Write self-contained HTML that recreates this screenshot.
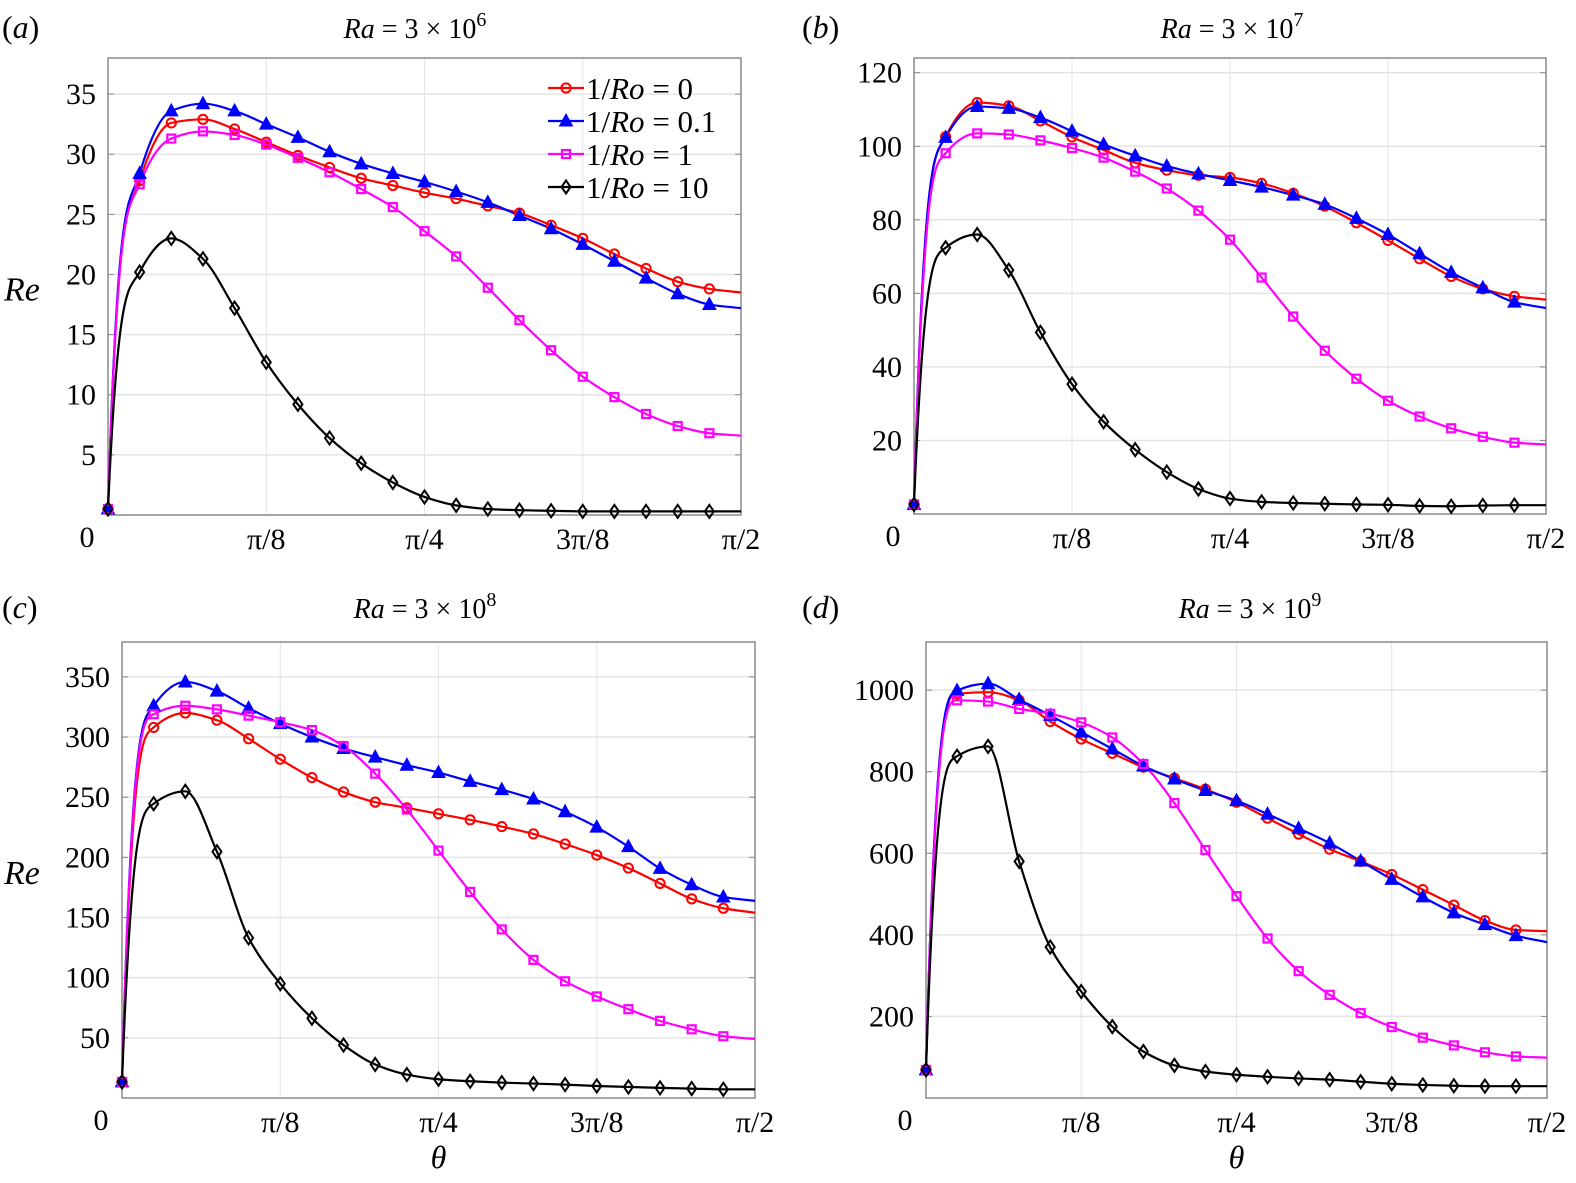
<!DOCTYPE html>
<html><head><meta charset="utf-8">
<style>
html,body{margin:0;padding:0;background:#fff;}
svg{display:block;font-family:"Liberation Serif","Times New Roman",serif;}
</style></head>
<body>
<svg id="fig" width="1576" height="1183" viewBox="0 0 1576 1183" font-family="Liberation Serif, serif" xmlns="http://www.w3.org/2000/svg"></svg>
<script>
// values at theta = k*pi/40, k = 0..20 (marker on k=0..19)
const aRed  =[0.5,27.8,32.6,32.9,32.1,31.0,29.9,28.9,28.0,27.4,26.8,26.3,25.7,25.1,24.1,23.0,21.7,20.5,19.4,18.8,18.5];
const aBlue =[0.5,28.4,33.6,34.2,33.6,32.5,31.4,30.2,29.2,28.4,27.7,26.9,26.0,24.9,23.8,22.5,21.1,19.7,18.4,17.5,17.2];
const aMag  =[0.5,27.5,31.3,31.9,31.6,30.8,29.7,28.5,27.1,25.6,23.6,21.5,18.9,16.2,13.7,11.5,9.8,8.4,7.4,6.8,6.6];
const aBlk  =[0.5,20.2,23.0,21.3,17.2,12.7,9.2,6.4,4.3,2.7,1.5,0.8,0.5,0.4,0.35,0.3,0.3,0.3,0.3,0.3,0.3];

const bRed  =[2.6,102.6,111.9,111,106.9,102.5,99,95.5,93.5,92.1,91.5,89.9,87.2,83.7,79.2,74.4,69.4,64.6,61.2,59.2,58.3];
const bBlue =[2.6,102.4,110.8,110.3,107.8,104.1,100.5,97.4,94.6,92.5,90.7,88.9,86.7,84.2,80.4,76,70.8,65.7,61.5,57.6,56];
const bMag  =[2.6,98.1,103.5,103.2,101.6,99.5,96.9,93.1,88.5,82.5,74.6,64.3,53.7,44.4,36.8,30.8,26.5,23.3,21,19.4,18.9];
const bBlk  =[2.6,72.4,76,66.3,49.4,35.3,25.1,17.5,11.4,6.8,4.2,3.3,3.0,2.8,2.6,2.5,2.2,2.1,2.3,2.4,2.4];

const cRed  =[13.4,308,320,314,298.6,281.6,266.3,254.3,245.9,241.2,236.2,231.2,225.6,219.5,211.1,201.9,191.1,178.3,165.5,157.7,154];
const cBlue =[13.4,326,345.8,338.2,324,311.2,300,290.5,283.3,276.6,270.5,263.2,256.3,248.5,237.9,225.1,208.9,190.8,177.2,167.1,163.8];
const cMag  =[13.4,319,326,323,317.8,312.3,305.8,292.5,269.6,239.8,205.6,171.3,140.1,114.8,97,84.4,73.8,64.1,57.1,51.3,49];
const cBlk  =[13.4,244.6,254.9,204.7,133.1,95,66.3,44,27.9,19.5,15.6,13.9,12.8,12,11.1,10,9.2,8.4,7.8,7.2,7.2];

const dRed  =[69,991,995,975,923,880,845,811,784,757,725,686,647,610,580,548,511,473,435,412,409];
const dBlue =[69,999,1016,977,938,897,856,814,782,754,729,696,661,625,581,536,493,454,425,398,382];
const dMag  =[69,975,972,954,942,921,884,819,723,608,495,391,311,253,208,174,148,129,112,102,99];
const dBlk  =[69,838,862,580,370,261,175,114,80,65,57,52,48,45,40,35,32,30,29,29,29];

const xTickLabels=["π/8","π/4","3π/8","π/2"];
const aYTicks=[5,10,15,20,25,30,35];
const bYTicks=[20,40,60,80,100,120];
const cYTicks=[50,100,150,200,250,300,350];
const dYTicks=[200,400,600,800,1000];
const legendLabels=["1/Ro = 0","1/Ro = 0.1","1/Ro = 1","1/Ro = 10"];

const NS="http://www.w3.org/2000/svg";
const svg=document.getElementById('fig');
function mk(tag,attrs,parent){const e=document.createElementNS(NS,tag);for(const k in attrs)e.setAttribute(k,attrs[k]);(parent||svg).appendChild(e);return e;}

const colors=["#ff0000","#0000ff","#ff00ff","#000000"];
const mkNames=["circle","triangle","square","diamond"];

function marker(g,type,x,y,col){
  let e;
  if(type==="circle"){e=mk('circle',{cx:x,cy:y,r:4.6,fill:'none',stroke:col,'stroke-width':2},g);}
  else if(type==="triangle"){e=mk('polygon',{points:`${x},${y-7} ${x-6.5},${y+5} ${x+6.5},${y+5}`,fill:col,stroke:col,'stroke-width':1},g);}
  else if(type==="square"){e=mk('rect',{x:x-4,y:y-4,width:8,height:8,fill:'none',stroke:col,'stroke-width':2.2},g);}
  else {e=mk('polygon',{points:`${x},${y-6.5} ${x+4.5},${y} ${x},${y+6.5} ${x-4.5},${y}`,fill:'none',stroke:col,'stroke-width':2},g);}
  
  
}

// monotone cubic (Fritsch-Carlson) through pixel points
function spline(pts){
  const n=pts.length, dx=[], m=[], t=new Array(n);
  for(let i=0;i<n-1;i++){dx.push(pts[i+1][0]-pts[i][0]);m.push((pts[i+1][1]-pts[i][1])/dx[i]);}
  t[0]=3*m[0]; t[n-1]=m[n-2];
  for(let i=1;i<n-1;i++){
    if(m[i-1]*m[i]<=0) t[i]=0;
    else {const w1=2*dx[i]+dx[i-1],w2=dx[i]+2*dx[i-1];t[i]=(w1+w2)/(w1/m[i-1]+w2/m[i]);}
  }
  let d=`M${pts[0][0]},${pts[0][1]}`;
  for(let i=0;i<n-1;i++){
    const h=dx[i]/3;
    d+=` C${pts[i][0]+h},${pts[i][1]+t[i]*h} ${pts[i+1][0]-h},${pts[i+1][1]-t[i+1]*h} ${pts[i+1][0]},${pts[i+1][1]}`;
  }
  return d;
}

function panel(o){
  const g=mk('g',{});
  
  
  const {L,R,T,B,ymax}=o;
  const sx=t=>L+(R-L)*t/(Math.PI/2);
  const sy=v=>B-(B-T)*v/ymax;
  for(let i=1;i<=3;i++){
    const l=mk('line',{x1:sx(i*Math.PI/8),x2:sx(i*Math.PI/8),y1:T,y2:B,stroke:'#e4e4e4','stroke-width':1},g);
    
    
  }
  o.yticks.forEach(v=>{
    const l=mk('line',{x1:L,x2:R,y1:sy(v),y2:sy(v),stroke:'#e4e4e4','stroke-width':1.5},g);
    
    
    const tk=mk('line',{x1:L,x2:L+6,y1:sy(v),y2:sy(v),stroke:'#888','stroke-width':1},g);
    
    
    const tk2=mk('line',{x1:R-6,x2:R,y1:sy(v),y2:sy(v),stroke:'#888','stroke-width':1},g);
    
    
    const t=mk('text',{x:L-12,y:sy(v)+10,'text-anchor':'end','font-size':30,fill:'#000'},g);
    t.textContent=v;
    
    
  });
  xTickLabels.forEach((s,i)=>{
    const t=mk('text',{x:sx((i+1)*Math.PI/8),y:B+34,'text-anchor':'middle','font-size':30,fill:'#000'},g);
    t.textContent=s;
    
    
  });
  const z=mk('text',{x:L-21,y:B+32,'text-anchor':'middle','font-size':30,fill:'#000'},g);
  z.textContent='0';
  
  
  const bx=mk('rect',{x:L,y:T,width:R-L,height:B-T,fill:'none',stroke:'#8a8a8a','stroke-width':1.5},g);
  
  
  o.series.forEach((arr,si)=>{
    const pts=arr.map((v,k)=>[sx(k*Math.PI/40),sy(v)]);
    const p=mk('path',{d:spline(pts),fill:'none',stroke:colors[si],'stroke-width':2.2},g);
    
    
  });
  o.series.forEach((arr,si)=>{
    arr.forEach((v,k)=>{ if(k<20) marker(g,mkNames[si],sx(k*Math.PI/40),sy(v),colors[si]); });
  });
  const pl=mk('text',{x:o.labX,y:o.labY,'font-size':32,fill:'#000'},g);
  pl.innerHTML='(<tspan font-style="italic">'+o.letter+'</tspan>)';
  
  
  const tt=mk('text',{x:o.titleX,y:o.labY,'text-anchor':'middle','font-size':28,fill:'#000'},g);
  tt.innerHTML='<tspan font-style="italic">Ra</tspan> = 3 × 10<tspan font-size="20" dy="-12">'+o.exp+'</tspan>';
  
  
  if(o.reLabel){
    const r=mk('text',{x:4,y:(T+B)/2+14,'font-size':34,'font-style':'italic',fill:'#000'},g);
    r.textContent='Re';
    
    
  }
  if(o.theta){
    const th=mk('text',{x:(L+R)/2,y:B+70,'text-anchor':'middle','font-size':32,'font-style':'italic',fill:'#000'},g);
    th.textContent='θ';
    
    
  }
  return g;
}

panel({name:'panel-a',letter:'a',exp:'6',L:108,R:741,T:58,B:515,ymax:38,yticks:aYTicks,series:[aRed,aBlue,aMag,aBlk],labY:38,labX:2,titleX:415,reLabel:true});
panel({name:'panel-b',letter:'b',exp:'7',L:914,R:1546,T:58,B:514,ymax:124,yticks:bYTicks,series:[bRed,bBlue,bMag,bBlk],labY:38,labX:802,titleX:1232});
panel({name:'panel-c',letter:'c',exp:'8',L:122,R:755,T:642,B:1098,ymax:379,yticks:cYTicks,series:[cRed,cBlue,cMag,cBlk],labY:618,labX:2,titleX:425,reLabel:true,theta:true});
panel({name:'panel-d',letter:'d',exp:'9',L:926,R:1547,T:642,B:1098,ymax:1118,yticks:dYTicks,series:[dRed,dBlue,dMag,dBlk],labY:618,labX:802,titleX:1250,theta:true});

const lg=mk('g',{});


legendLabels.forEach((s,i)=>{
  const y=88+i*33;
  const l=mk('line',{x1:548,x2:584,y1:y,y2:y,stroke:colors[i],'stroke-width':2.2},lg);
  
  
  marker(lg,mkNames[i],566,y,colors[i]);
  const t=mk('text',{x:586,y:y+11,'font-size':31,fill:'#000'},lg);
  t.innerHTML='1/<tspan font-style="italic">Ro</tspan>'+s.slice(4);
  
  
});
</script>
</body></html>
